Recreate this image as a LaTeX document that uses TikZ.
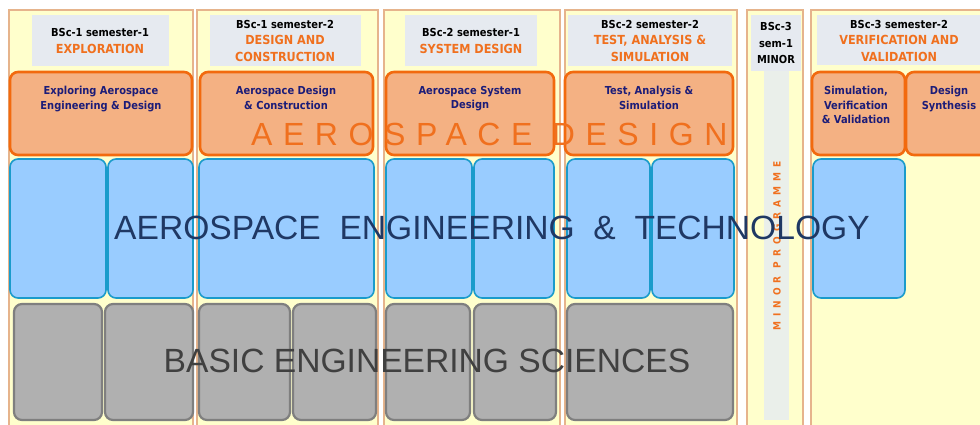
\documentclass[tikz,border=0pt]{standalone}
\usepackage{fontspec}
\setmainfont{Liberation Sans}
\newfontfamily\hdfont[FakeStretch=0.9]{DejaVu Sans}
\newfontfamily\minorfont[FakeStretch=0.9,LetterSpace=50]{DejaVu Sans}
\newfontfamily\spacedfont[LetterSpace=33]{Liberation Sans}
\definecolor{panelyellow}{HTML}{FFFFCC}
\definecolor{paneltan}{HTML}{E6B48C}
\definecolor{headgray}{HTML}{E6EAF0}
\definecolor{minorgray}{HTML}{EAEFEA}
\definecolor{designfill}{HTML}{F4B183}
\definecolor{designline}{HTML}{F26A0E}
\definecolor{techfill}{HTML}{99CCFF}
\definecolor{techline}{HTML}{1A9BCB}
\definecolor{basicfill}{HTML}{B0B0B0}
\definecolor{basicline}{HTML}{7F7F7F}
\definecolor{headorange}{HTML}{F0701E}
\definecolor{boxnavy}{HTML}{1C1C78}
\definecolor{bignavy}{HTML}{1F3864}
\definecolor{biggray}{HTML}{404040}
\newcommand\hl[1]{\textcolor{headorange}{\fontsize{12.5}{16.5}\selectfont #1}}
\begin{document}
\begin{tikzpicture}[x=1pt, y=-1pt,
    panel/.style={fill=panelyellow, draw=paneltan, line width=1.2pt},
    headbox/.style={fill=headgray, draw=none},
    designbox/.style={fill=designfill, draw=designline, line width=2.6pt, rounded corners=8pt},
    techbox/.style={fill=techfill, draw=techline, line width=1.6pt, rounded corners=8pt},
    basicbox/.style={fill=basicfill, draw=basicline, line width=2.2pt, rounded corners=8pt},
    headtext/.style={font=\hdfont\bfseries\fontsize{11}{16.5}\selectfont, align=center, inner sep=0pt},
    boxtext/.style={font=\hdfont\bfseries\fontsize{11}{14.5}\selectfont, text=boxnavy, align=center, anchor=north, inner sep=0pt},
    bigtext/.style={font=\fontsize{33.6}{40}\selectfont, anchor=base, inner sep=0pt}]
  \useasboundingbox (0,0) rectangle (980,424);
  \clip (0,0) rectangle (980,424);

  % semester panels
  \draw[panel] (9,10) rectangle (193,430);
  \draw[panel] (197,10) rectangle (378,430);
  \draw[panel] (384,10) rectangle (560,430);
  \draw[panel] (565,10) rectangle (737,430);
  \draw[panel] (747,10) rectangle (803,430);
  \draw[panel] (811,10) rectangle (995,430);

  % header boxes
  \fill[headbox] (32,15) rectangle (169,66);
  \fill[headbox] (210,15) rectangle (361,66);
  \fill[headbox] (405,15) rectangle (537,66);
  \fill[headbox] (568,15) rectangle (732,66);
  \fill[headbox] (751,15) rectangle (801,71);
  \fill[headbox] (817,15) rectangle (995,65);
  \fill[minorgray] (764,71) rectangle (789,420);

  \node[headtext] (h1) at (100,41) {BSc-1 semester-1\\\hl{EXPLORATION}};
  \node[headtext] (h2) at (285,41) {BSc-1 semester-2\\\hl{DESIGN AND}\\\hl{CONSTRUCTION}};
  \node[headtext] (h3) at (471,41) {BSc-2 semester-1\\\hl{SYSTEM DESIGN}};
  \node[headtext] (h4) at (650,41) {BSc-2 semester-2\\\hl{TEST, ANALYSIS \&}\\\hl{SIMULATION}};
  \node[headtext] (h5) at (776,43) {BSc-3\\sem-1\\MINOR};
  \node[headtext] (h6) at (899,41) {BSc-3 semester-2\\\hl{VERIFICATION AND}\\\hl{VALIDATION}};

  % design modules
  \draw[designbox] (10,72) rectangle (192,155);
  \draw[designbox] (200,72) rectangle (373,155);
  \draw[designbox] (386,72) rectangle (554,155);
  \draw[designbox] (565,72) rectangle (733,155);
  \draw[designbox] (812,72) rectangle (905,155);
  \draw[designbox] (906,72) rectangle (995,155);

  \node[boxtext] (d1) at (101,86) {Exploring Aerospace\\Engineering \& Design};
  \node[boxtext] (d2) at (286,86) {Aerospace Design\\\& Construction};
  \node[boxtext] (d3) at (470,86) {Aerospace System\\Design};
  \node[boxtext] (d4) at (649,86) {Test, Analysis \&\\Simulation};
  \node[boxtext] (d5) at (856,86) {Simulation,\\Verification\\\& Validation};
  \node[boxtext] (d6) at (949,86) {Design\\Synthesis};

  % technology modules
  \draw[techbox] (10,159) rectangle (106,298);
  \draw[techbox] (108,159) rectangle (193,298);
  \draw[techbox] (199,159) rectangle (374,298);
  \draw[techbox] (386,159) rectangle (472,298);
  \draw[techbox] (474,159) rectangle (554,298);
  \draw[techbox] (567,159) rectangle (650,298);
  \draw[techbox] (652,159) rectangle (734,298);
  \draw[techbox] (813,159) rectangle (905,298);

  % basic science modules
  \draw[basicbox] (14,304) rectangle (102,420);
  \draw[basicbox] (105,304) rectangle (193,420);
  \draw[basicbox] (199,304) rectangle (290,420);
  \draw[basicbox] (293,304) rectangle (376,420);
  \draw[basicbox] (386,304) rectangle (470,420);
  \draw[basicbox] (474,304) rectangle (556,420);
  \draw[basicbox] (567,304) rectangle (733,420);

  \node[rotate=90, font=\minorfont\bfseries\fontsize{10}{12}\selectfont, text=headorange, inner sep=0pt] (minor) at (777,246) {MINOR PROGRAMME};

  % stream labels
  \node[font=\spacedfont\fontsize{32}{38}\selectfont, text=headorange, anchor=base west, inner sep=0pt] (design) at (251,145) {AEROSPACE DESIGN};
  \node[bigtext, text=bignavy] (tech) at (492,239) {AEROSPACE\ \ ENGINEERING\ \ \&\ \ TECHNOLOGY};
  \node[bigtext, text=biggray] (basic) at (427,372) {BASIC ENGINEERING SCIENCES};
\end{tikzpicture}
\end{document}
